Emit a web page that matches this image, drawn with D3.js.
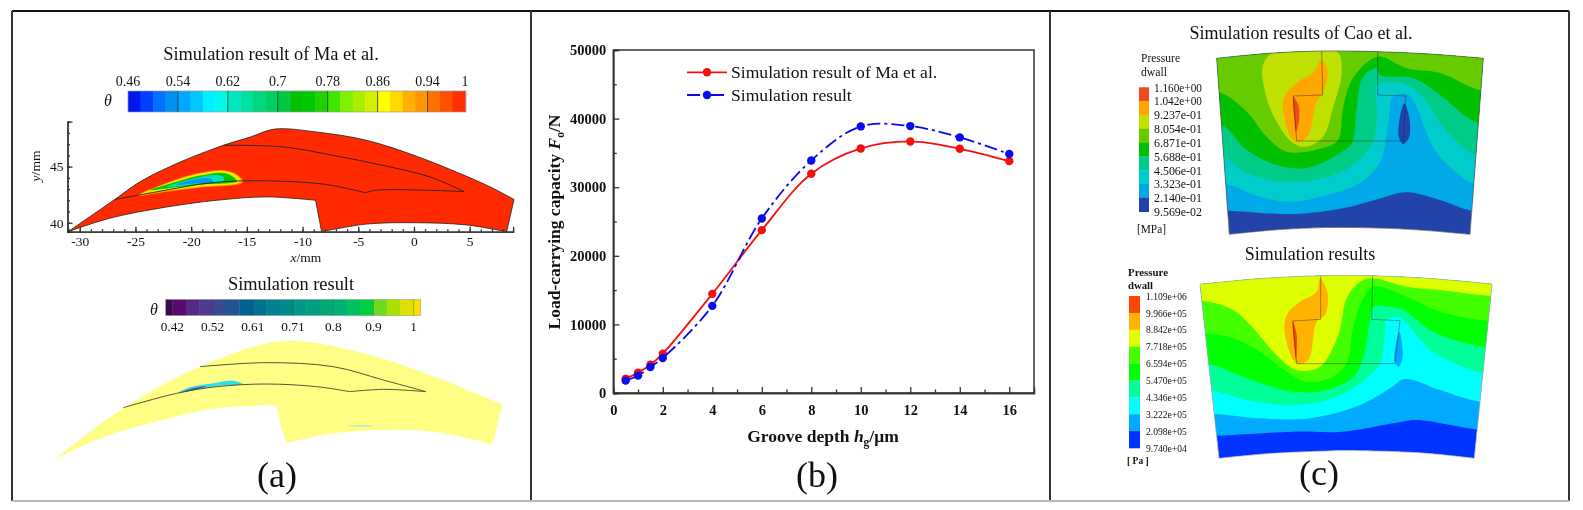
<!DOCTYPE html>
<html>
<head>
<meta charset="utf-8">
<script src="https://cdn.jsdelivr.net/npm/d3@7"></script>
<style>
  body { margin: 0; background: #fff; }
  svg { display: block; filter: blur(0.35px); }
  text { font-family: "Liberation Serif", serif; fill: #111; }
  .axis path, .axis line { stroke: #333; }
</style>
</head>
<body>
<div id="chart"></div>
<script>
// ---------- panel (b) curves ----------
const depth = [0.5, 1, 1.5, 2, 4, 6, 8, 10, 12, 14, 16];
const loadMa = [2090, 2970, 4130, 5740, 14450, 23740, 31960, 35650, 36670, 35600, 33800];
const loadSim = [1800, 2530, 3790, 5110, 12700, 25440, 33900, 38860, 38910, 37260, 34830];
const legendNames = ["Simulation result of Ma et al.", "Simulation result"];

// ---------- panel (a) colour bars ----------
const thetaTicksMa = ["0.46", "0.54", "0.62", "0.7", "0.78", "0.86", "0.94", "1"];
const thetaColorsMa = ["#0018f0", "#0040ff", "#0070ff", "#0090f0", "#00a8ff", "#00c8ff", "#00f0ff", "#00f8e8",
  "#00e8c0", "#00e0a0", "#00d880", "#00d060", "#00c840", "#00c000", "#00c800", "#20d000",
  "#40e800", "#80f000", "#a8f000", "#d0f000", "#ffff00", "#ffd800", "#ffb000", "#ff9800",
  "#ff7000", "#ff5000", "#ff3000", "#ff2000"];
const thetaTicksSim = ["0.42", "0.52", "0.61", "0.71", "0.8", "0.9", "1"];
const thetaColorsSim = ["#3c0a50", "#560a6a", "#552a85", "#503a90", "#3a4a90", "#205590", "#006090", "#007090",
  "#008090", "#008a8a", "#009888", "#00a080", "#00a878", "#00b070", "#00c060", "#00d040",
  "#70d820", "#a8e000", "#e0e000", "#ffdd00"];

// ---------- panel (a) upper map, in mm ----------
const maOutline = [
  [[-31.05, 39.2], [-26.86, 42.07], [-24.6, 43.64], [-21.3, 45.27], [-17.1, 46.9], [-14.7, 47.63], [-12.5, 48.34],
   [-8.74, 48.08], [-4.25, 47.34], [0.24, 45.92], [4.13, 44.38], [6.83, 43.2], [8.98, 42.07]],
  [[8.98, 42.07], [8.32, 39.2]],
  [[8.32, 39.2], [4.73, 39.8], [0.24, 40], [-4.25, 39.88], [-8.29, 39.2]],
  [[-8.29, 39.2], [-8.83, 42]],
  [[-8.83, 42], [-13.2, 42.3], [-17.7, 42], [-22.2, 41.4], [-27.3, 40.4], [-31.05, 39.2]]
];
const maGroove = [
  [[-17.1, 46.9], [-11.7, 46.75], [-7.25, 46], [-2.75, 45.1], [1.44, 44.08], [4.49, 42.78]],
  [[4.49, 42.78], [-3.35, 42.9], [-4.34, 42.66]],
  [[-4.34, 42.66], [-7.84, 43.4], [-13.2, 43.73], [-18, 43.58], [-23.1, 42.75], [-26.86, 42.07]]
];
const maCavity = [
  { color: "#ff9000", pts: [[-24.8, 42.4], [-21.3, 43.88], [-19.2, 44.45], [-17.1, 44.68], [-15.8, 44.25], [-15.35, 43.6], [-19.2, 43.12], [-22.2, 42.76]] },
  { color: "#f0e800", pts: [[-24.6, 42.5], [-21.3, 43.8], [-19.2, 44.38], [-17.1, 44.6], [-15.9, 44.2], [-15.5, 43.64], [-19.2, 43.2], [-22.2, 42.84]] },
  { color: "#00c800", pts: [[-23.7, 42.9], [-21.3, 43.64], [-19.2, 44.2], [-17.1, 44.44], [-16.2, 44.08], [-15.9, 43.7], [-19.2, 43.4], [-22.2, 43.05]] },
  { color: "#00e0c0", pts: [[-22.2, 43.2], [-20.1, 43.85], [-18, 44.26], [-17.1, 44.08], [-17.1, 43.73], [-19.2, 43.5]] },
  { color: "#0090f0", pts: [[-21.3, 43.4], [-19.2, 43.93], [-18.3, 43.93], [-18, 43.64], [-19.8, 43.5]] }
];

// ---------- panel (a) lower map, sketch units ----------
const simOutline = [
  [[162, 600], [370, 445], [600, 320], [850, 243], [1050, 270], [1250, 330], [1507, 433]],
  [[1507, 433], [1477, 552]],
  [[1477, 552], [1300, 515], [1150, 510], [1000, 520], [858, 550]],
  [[858, 550], [828, 435]],
  [[828, 435], [650, 445], [450, 490], [300, 535], [162, 600]]
];
const simGroove = [
  [[600, 320], [800, 308], [1000, 320], [1150, 360], [1278, 395]],
  [[1278, 395], [1150, 388], [1050, 395]],
  [[1050, 395], [950, 380], [800, 372], [650, 380], [530, 400], [370, 443]]
];
const simCavity = [[535, 398], [570, 382], [640, 370], [700, 362], [730, 373], [650, 378]];
const simCavityCore = [[540, 398], [580, 385], [620, 378], [590, 388]];
const simSpeck = [[1040, 498], [1085, 494], [1125, 498], [1085, 501]];

// ---------- panel (c) legends ----------
const pressureTop = ["1.160e+00", "1.042e+00", "9.237e-01", "8.054e-01", "6.871e-01", "5.688e-01", "4.506e-01", "3.323e-01", "2.140e-01", "9.569e-02"];
const colorsTop = ["#f04a20", "#ffa600", "#bfe000", "#66cc00", "#00c000", "#00cc88", "#00cccc", "#00aae8", "#2244aa"];
const pressureBot = ["1.109e+06", "9.966e+05", "8.842e+05", "7.718e+05", "6.594e+05", "5.470e+05", "4.346e+05", "3.222e+05", "2.098e+05", "9.740e+04"];
const colorsBot = ["#ff4400", "#ffb300", "#ddff00", "#44ff00", "#00ff00", "#00ff99", "#00ffff", "#00aaff", "#0033ff"];

// ---------- panel (c) contours, sector units ----------
const topArcA = [[16.7, 8.3], [70, 3.2], [121.7, 1], [177.7, 1.7], [230, 4], [283.3, 8.3]];
const botArcA = [[270, 184.3], [220, 180], [178, 178], [126.7, 177.5], [80, 179.5], [29.3, 184.3]];
const levelsA = [
  [[27.7, 160.7], [93.3, 164], [143, 158.3], [175, 150], [206.7, 142.3], [240, 150], [271.7, 160.7]],
  [[25.7, 134], [60, 146.7], [93, 151.7], [126.7, 145], [160, 133], [180, 111.7], [188, 75], [191.7, 48], [195, 45], [208, 45], [218, 60], [228, 86.7], [240, 106.7], [273, 133]],
  [[23.3, 106.7], [46.7, 123.3], [86.7, 131.7], [123, 128], [153, 115], [173, 91.7], [176.7, 65], [178, 35], [206.7, 35], [226.7, 51.7], [240, 73], [275.3, 105]],
  [[21.7, 75], [46.7, 100], [76.7, 115], [106.7, 118], [140, 103], [151.7, 93], [156.7, 56.7], [163, 26.7], [176.7, 18], [180, 25], [213, 28], [240, 45], [277.7, 73]],
  [[19.3, 42.3], [46.7, 61.7], [66.7, 86.7], [86.7, 101.7], [123, 98], [138, 90], [143, 58], [153, 28], [177.7, 6.7], [206.7, 18.3], [240, 23], [280, 40]]
];
const blobsA = [
  { color: colorsTop[2], pts: [[63, 15], [73, 3], [137, 2], [141.7, 21.7], [133, 58], [123, 86.7], [106.7, 96.7], [93, 93], [73, 65], [63, 31.7]] },
  { color: colorsTop[1], pts: [[121.7, 10], [127.7, 21.7], [123, 41.7], [116.7, 51.7], [108.3, 85], [100, 91.7], [93.3, 90], [85, 71.7], [84, 48], [96.7, 33], [113, 23]] },
  { color: colorsTop[0], pts: [[93.3, 46.7], [98.3, 55], [99.3, 68], [96, 81.7], [94, 65]] },
  { color: colorsTop[8], pts: [[204.3, 53.3], [209.3, 68], [209.3, 86.7], [203.3, 94], [198.7, 86.7], [200, 66.7]] }
];
const grooveA = [[121.7, 1], [122.7, 45], [93.3, 46], [96.7, 91], [203.3, 91], [206, 46], [177.7, 45], [177.7, 1.7]];

const topArcB = [[0, 14.3], [60, 8.6], [120, 5.7], [172.7, 5.7], [230, 8.5], [292, 14]];
const botArcB = [[274.3, 188.3], [223, 183], [160, 180.7], [126.7, 181], [70, 183.5], [19, 188.3]];
const levelsB = [
  [[16.7, 165.7], [93.3, 161.7], [143, 161.7], [193.3, 153.3], [216.7, 150], [276.7, 159.3]],
  [[14.3, 144], [60, 148.3], [110, 148.3], [160, 135], [190, 118.3], [205, 109], [240, 120], [280, 131.7]],
  [[12.3, 120.7], [46.7, 130], [93.3, 135], [133, 128.3], [166.7, 108.3], [180, 93.3], [185, 61.7], [186.7, 50], [200, 48], [216.7, 65], [230, 80], [283.3, 103.3]],
  [[10, 94.3], [46.7, 108.3], [93.3, 121.7], [126.7, 120], [153.3, 106.7], [163.3, 86.7], [170, 50], [173.3, 36.7], [190, 36.7], [203.3, 40], [233.3, 61.7], [285.7, 77.3]],
  [[6.7, 63.3], [33.3, 68.3], [60, 81.7], [86.7, 101.7], [106.7, 111.7], [130, 108.3], [146.7, 93.3], [153, 58], [163.3, 28.3], [172.7, 16.7], [206.7, 26.7], [240, 41.7], [288, 50.7]],
  [[2.7, 30.7], [33.3, 40], [53.3, 58.3], [73.3, 81.7], [96.7, 100], [120, 96.7], [138.3, 65], [146.7, 28.3], [160, 11.7], [172.7, 8.3], [206.7, 16.7], [240, 20], [290, 25.7]]
];
const blobsB = [
  { color: colorsBot[1], pts: [[120, 8.3], [127.7, 23.3], [125, 45], [116.7, 51.7], [108.3, 90], [96.7, 93.3], [85, 65], [86.7, 45], [100, 31.7], [116.7, 21.7]] },
  { color: colorsBot[0], pts: [[92.7, 51], [96.7, 65], [96, 90], [94, 71.7]] },
  { color: colorsBot[7], pts: [[199.3, 61.7], [202.7, 86.7], [198.3, 96.7], [194.3, 90], [195, 78.3]] }
];
const grooveB = [[120.7, 5.7], [120.7, 49.3], [92.7, 51], [96.7, 93.7], [195, 93.7], [200, 50.7], [171.7, 49.3], [172.7, 5.7]];

const width = 1583, height = 510;
const svg = d3.select("#chart").append("svg").attr("width", width).attr("height", height);
const defs = svg.append("defs");

// small text helper
function label(x, y, str, size, opts = {}) {
  const t = svg.append("text").attr("x", x).attr("y", y)
    .attr("text-anchor", opts.anchor || "middle")
    .style("font-size", size + "px")
    .style("font-weight", opts.weight || null)
    .style("font-style", opts.italic ? "italic" : null)
    .text(str);
  // 参考图的文字被横向压缩过
  if (opts.fit) t.attr("textLength", opts.fit).attr("lengthAdjust", "spacingAndGlyphs");
  return t;
}

// join several smooth runs into one path, corners stay sharp
function joinRuns(runs, x, y) {
  const gen = d3.line().x(d => x(d[0])).y(d => y(d[1])).curve(d3.curveCatmullRom.alpha(0.5));
  return runs.map((r, i) => i === 0 ? gen(r) : "L" + gen(r).slice(1)).join("");
}

// ---- frame ----
[[12, 11, 1569, 11, "#111"], [12, 11, 12, 501, "#333"], [531, 11, 531, 501, "#333"], [1050, 11, 1050, 501, "#333"],
 [1569, 11, 1569, 501, "#333"], [12, 501, 1569, 501, "#bbb"]].forEach(f => {
  svg.append("line").attr("x1", f[0]).attr("y1", f[1]).attr("x2", f[2]).attr("y2", f[3])
    .attr("stroke", f[4]).attr("stroke-width", 2);
});

// ---- panel (a) ----
label(271, 60, legendNames[0], 18.4);
const barMa = d3.scaleLinear().domain([0.46, 1]).range([128, 465]);
const bandMa = 0.02;
svg.append("g").selectAll("rect").data(thetaColorsMa).enter().append("rect")
  .attr("x", (d, i) => barMa(0.46 + i * bandMa))
  .attr("y", 91).attr("height", 21)
  .attr("width", (d, i) => barMa(Math.min(0.46 + (i + 1) * bandMa, 1)) - barMa(0.46 + i * bandMa) + 0.5)
  .attr("fill", d => d);
svg.append("rect").attr("x", 128).attr("y", 91).attr("width", 338).attr("height", 21)
  .attr("fill", "none").attr("stroke", "#999").attr("stroke-width", 0.7);
thetaTicksMa.forEach(t => {
  const x = barMa(+t);
  if (t !== "0.46" && t !== "1") {
    svg.append("line").attr("x1", x).attr("x2", x).attr("y1", 91).attr("y2", 112).attr("stroke", "#333").attr("stroke-width", 0.8);
  }
  label(x, 86, t, 14);
});
label(108, 106, "θ", 16, { italic: true });

const xA = d3.scaleLinear().domain([-31.1, 8.9]).range([67.5, 513.1]);
const yA = d3.scaleLinear().domain([39.2, 49]).range([231.7, 121.7]);
svg.append("path").attr("d", joinRuns(maOutline, xA, yA) + "Z").attr("fill", "#ff2a00").attr("stroke", "#222").attr("stroke-width", 0.8);
const smoothA = d3.line().x(d => xA(d[0])).y(d => yA(d[1])).curve(d3.curveCatmullRomClosed);
maCavity.forEach(c => {
  svg.append("path").attr("d", smoothA(c.pts)).attr("fill", c.color);
});
svg.append("path").attr("d", joinRuns(maGroove, xA, yA)).attr("fill", "none").attr("stroke", "#222").attr("stroke-width", 0.9);

function styleAxis(g, size, weight) {
  g.attr("class", "axis");
  g.selectAll("text").style("font-size", size + "px").style("font-weight", weight || null);
  return g;
}
const axAx = svg.append("g").attr("transform", "translate(0,231.7)")
  .call(d3.axisBottom(xA).tickValues(d3.range(-30, 6, 5)).tickSize(-5).tickPadding(5).tickFormat(d => String(d)));
styleAxis(axAx, 13.5);
svg.append("g").attr("class", "axis").attr("transform", "translate(0,231.7)")
  .call(d3.axisBottom(xA).tickValues(d3.range(-31, 9, 1)).tickSize(-2.5).tickFormat(""));
const ayAx = svg.append("g").attr("transform", "translate(67.5,0)")
  .call(d3.axisLeft(yA).tickValues([40, 45]).tickSize(-5).tickPadding(4));
styleAxis(ayAx, 13.5);
svg.append("g").attr("class", "axis").attr("transform", "translate(67.5,0)")
  .call(d3.axisLeft(yA).tickValues(d3.range(40, 50, 1)).tickSize(-2.5).tickFormat(""));
const xAt = label(306, 261.5, "", 13.5);
xAt.append("tspan").style("font-style", "italic").text("x");
xAt.append("tspan").text("/mm");
const yAt = svg.append("text").attr("transform", "translate(40,166) rotate(-90)").attr("text-anchor", "middle").style("font-size", "13.5px");
yAt.append("tspan").style("font-style", "italic").text("y");
yAt.append("tspan").text("/mm");

label(291, 290, legendNames[1], 18.4);
const barSim = d3.scaleLinear().domain([0, 18]).range([172.3, 413.7]);
svg.append("g").selectAll("rect").data(thetaColorsSim).enter().append("rect")
  .attr("x", (d, i) => barSim(Math.max(i - 1, -0.5)))
  .attr("y", 299.3).attr("height", 16.4)
  .attr("width", (d, i) => barSim(Math.min(i, 18.5)) - barSim(Math.max(i - 1, -0.5)) + 0.4)
  .attr("fill", d => d);
svg.append("rect").attr("x", 165.3).attr("y", 299.3).attr("width", 255.4).attr("height", 16.4)
  .attr("fill", "none").attr("stroke", "#aaa").attr("stroke-width", 0.6);
thetaTicksSim.forEach((t, i) => {
  const x = barSim(i * 3);
  label(x, 330.7, t, 13.3);
  svg.append("line").attr("x1", x).attr("x2", x).attr("y1", 299.3).attr("y2", 315.7).attr("stroke", "#333").attr("stroke-opacity", 0.5).attr("stroke-width", 0.6);
});
label(154, 315, "θ", 16, { italic: true });

const xS = d3.scaleLinear().domain([0, 1575]).range([0, 525]);
const yS = d3.scaleLinear().domain([0, 750]).range([260, 510]);
const blobS = d3.line().x(d => xS(d[0])).y(d => yS(d[1])).curve(d3.curveCatmullRomClosed);
svg.append("path").attr("d", joinRuns(simOutline, xS, yS) + "Z").attr("fill", "#ffff85");
svg.append("path").attr("d", blobS(simSpeck)).attr("fill", "#c8f0b0");
svg.append("path").attr("d", blobS(simCavity)).attr("fill", "#30e0e8");
svg.append("path").attr("d", blobS(simCavityCore)).attr("fill", "#6040a0");
svg.append("path").attr("d", joinRuns(simGroove, xS, yS)).attr("fill", "none").attr("stroke", "#555530").attr("stroke-width", 1);
label(277, 487, "(a)", 36);

// ---- panel (b) ----
const xB = d3.scaleLinear().domain([0, 17]).range([613.3, 1034]);
const yB = d3.scaleLinear().domain([0, 50000]).range([393, 50]);
svg.append("rect").attr("x", xB(0)).attr("y", yB(50000)).attr("width", xB(17) - xB(0)).attr("height", yB(0) - yB(50000))
  .attr("fill", "none").attr("stroke", "#333").attr("stroke-width", 1.5);
const bxAx = svg.append("g").attr("transform", `translate(0,${yB(0)})`)
  .call(d3.axisBottom(xB).tickValues(d3.range(0, 17, 2)).tickSize(-6).tickPadding(12).tickFormat(d => String(d)));
styleAxis(bxAx, 14.5, "bold");
svg.append("g").attr("class", "axis").attr("transform", `translate(0,${yB(0)})`)
  .call(d3.axisBottom(xB).tickValues(d3.range(1, 17, 2)).tickSize(-3.5).tickFormat(""));
const byAx = svg.append("g").attr("transform", `translate(${xB(0)},0)`)
  .call(d3.axisLeft(yB).tickValues(d3.range(0, 50001, 10000)).tickSize(-6).tickPadding(7).tickFormat(d => String(d)));
styleAxis(byAx, 14.5, "bold");
svg.append("g").attr("class", "axis").attr("transform", `translate(${xB(0)},0)`)
  .call(d3.axisLeft(yB).tickValues(d3.range(5000, 50000, 10000)).tickSize(-3.5).tickFormat(""));
svg.selectAll(".axis path, .axis line").attr("stroke-width", 1.3);

const curve = d3.line().x(d => xB(d[0])).y(d => yB(d[1])).curve(d3.curveCatmullRom.alpha(0.5));
const seriesB = [
  { values: loadMa, color: "#f50f0f", dash: null },
  { values: loadSim, color: "#0a0aee", dash: "13,4,3,4" }
];
seriesB.forEach((s, k) => {
  const pts = depth.map((d, i) => [d, s.values[i]]);
  svg.append("path").attr("d", curve(pts)).attr("fill", "none").attr("stroke", s.color)
    .attr("stroke-width", 1.8).attr("stroke-dasharray", s.dash);
  svg.append("g").selectAll("circle").data(pts).enter().append("circle")
    .attr("cx", d => xB(d[0])).attr("cy", d => yB(d[1])).attr("r", 4.2).attr("fill", s.color);
  const ly = 72.3 + k * 22.7;
  svg.append("line").attr("x1", 687).attr("x2", 727).attr("y1", ly).attr("y2", ly)
    .attr("stroke", s.color).attr("stroke-width", 1.8).attr("stroke-dasharray", s.dash);
  svg.append("circle").attr("cx", 707).attr("cy", ly).attr("r", 4.2).attr("fill", s.color);
  label(731, ly + 5.7, legendNames[k], 17.6, { anchor: "start" });
});

const xBt = label(823, 442, "", 17.5, { weight: "bold" });
xBt.append("tspan").text("Groove depth ");
xBt.append("tspan").style("font-style", "italic").text("h");
xBt.append("tspan").attr("dy", 4).style("font-size", "11.5px").text("g");
xBt.append("tspan").attr("dy", -4).text("/μm");
const yBt = svg.append("text").attr("transform", "translate(560,222) rotate(-90)").attr("text-anchor", "middle")
  .style("font-size", "17.5px").style("font-weight", "bold");
yBt.append("tspan").text("Load-carrying capacity ");
yBt.append("tspan").style("font-style", "italic").text("F");
yBt.append("tspan").attr("dy", 4).style("font-size", "11.5px").text("o");
yBt.append("tspan").attr("dy", -4).text("/N");
label(817, 487, "(b)", 36);

// ---- panel (c) ----
function drawSector(id, originY, topArc, botArc, levels, levelColors, blobs, groove, edge) {
  const u = d3.scaleLinear().domain([0, 300]).range([1200, 1500]);
  const v = d3.scaleLinear().domain([0, 200]).range([originY, originY + 200]);
  const straight = d3.line().x(d => u(d[0])).y(d => v(d[1]));
  const arc = d3.line().x(d => u(d[0])).y(d => v(d[1])).curve(d3.curveCatmullRom.alpha(0.5));
  const outline = arc(topArc) + "L" + arc(botArc).slice(1) + "Z";
  defs.append("clipPath").attr("id", id).append("path").attr("d", outline);
  const g = svg.append("g").attr("clip-path", `url(#${id})`);
  g.append("path").attr("d", outline).attr("fill", levelColors[0]);
  levels.forEach((pts, i) => {
    const first = pts[0], last = pts[pts.length - 1];
    const wide = [[first[0] - 30, first[1]], ...pts, [last[0] + 30, last[1]]];
    const d = arc(wide) + "L" + u(last[0] + 30) + "," + v(-30) + "L" + u(first[0] - 30) + "," + v(-30) + "Z";
    g.append("path").attr("d", d).attr("fill", levelColors[i + 1]);
  });
  const blob = d3.line().x(d => u(d[0])).y(d => v(d[1])).curve(d3.curveCatmullRomClosed);
  blobs.forEach(b => g.append("path").attr("d", blob(b.pts)).attr("fill", b.color));
  svg.append("path").attr("d", straight(groove)).attr("fill", "none").attr("stroke", "#222").attr("stroke-opacity", 0.6).attr("stroke-width", 0.7);
  svg.append("path").attr("d", outline).attr("fill", "none").attr("stroke", edge).attr("stroke-width", 0.7);
}
drawSector("sectorA", 50, topArcA, botArcA, levelsA,
  [colorsTop[8], colorsTop[7], colorsTop[6], colorsTop[5], colorsTop[4], colorsTop[3]], blobsA, grooveA, "#555");
drawSector("sectorB", 270, topArcB, botArcB, levelsB,
  [colorsBot[8], colorsBot[7], colorsBot[6], colorsBot[5], colorsBot[4], colorsBot[3], colorsBot[2]], blobsB, grooveB, "#aaa");

function drawLegend(labels, colors, x, w, y0, y1, textX, size, fit) {
  const pos = d3.scalePoint().domain(labels).range([y0, y1]);
  svg.append("g").selectAll("rect").data(colors).enter().append("rect")
    .attr("x", x).attr("width", w)
    .attr("y", (d, i) => pos(labels[i]))
    .attr("height", (d, i) => pos(labels[i + 1]) - pos(labels[i]) + 0.3)
    .attr("fill", d => d);
  labels.forEach(t => {
    label(textX, pos(t) + size * 0.33, t, size, { anchor: "start", fit: fit });
  });
}
label(1301, 39, "Simulation results of Cao et al.", 18);
label(1141, 62, "Pressure", 13, { anchor: "start", fit: 39 });
label(1141, 76, "dwall", 13, { anchor: "start", fit: 26 });
drawLegend(pressureTop, colorsTop, 1139, 10, 87.3, 211.7, 1154, 13, 48);
label(1137, 233, "[MPa]", 13, { anchor: "start", fit: 29 });

label(1310, 260, "Simulation results", 18);
label(1128, 276, "Pressure", 11, { anchor: "start", weight: "bold", fit: 40 });
label(1128, 289, "dwall", 11, { anchor: "start", weight: "bold", fit: 25 });
drawLegend(pressureBot, colorsBot, 1129, 11, 296, 448, 1146, 11, 40.7);
label(1127, 464, "[ Pa ]", 11, { anchor: "start", weight: "bold", fit: 21.7 });
label(1319, 485, "(c)", 36);
</script>
</body>
</html>
